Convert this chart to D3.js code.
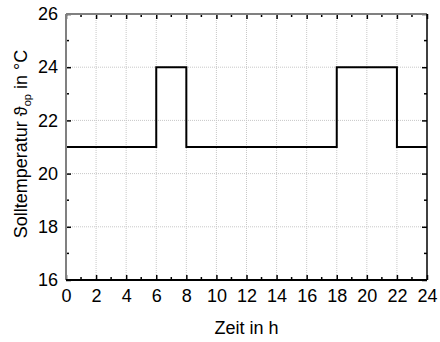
<!DOCTYPE html>
<html>
<head>
<meta charset="utf-8">
<script src="https://cdn.jsdelivr.net/npm/d3@7"></script>
<style>
body { margin: 0; background: #fff; }
text { font-family: "Liberation Sans", Arial, sans-serif; }
</style>
</head>
<body>
<svg id="chart"></svg>
<script>
// Sollwert-Zeitplan (Stufenfunktion)
var hours = [0, 6, 8, 18, 22, 24];
var temps = [21, 24, 21, 24, 21, 21];
var xTicks = [0, 2, 4, 6, 8, 10, 12, 14, 16, 18, 20, 22, 24];
var yTicks = [16, 18, 20, 22, 24, 26];

var margin = {top: 14, right: 13, bottom: 62, left: 66},
    width = 440 - margin.left - margin.right,
    height = 342 - margin.top - margin.bottom;

var svg = d3.select("#chart")
    .attr("width", 440)
    .attr("height", 342)
    .append("g")
    .attr("transform", "translate(" + margin.left + "," + margin.top + ")");

var x = d3.scaleLinear().domain([0, 24]).range([0, width]);
var y = d3.scaleLinear().domain([16, 26]).range([height, 0]);

// grid
svg.append("g").selectAll("line").data(xTicks.slice(1, -1)).enter().append("line")
    .attr("x1", function(d) { return x(d); }).attr("x2", function(d) { return x(d); })
    .attr("y1", 0).attr("y2", height)
    .attr("stroke", "#c8c8c8").attr("stroke-dasharray", "1,1");
svg.append("g").selectAll("line").data(yTicks.slice(1, -1)).enter().append("line")
    .attr("y1", function(d) { return y(d); }).attr("y2", function(d) { return y(d); })
    .attr("x1", 0).attr("x2", width)
    .attr("stroke", "#c8c8c8").attr("stroke-dasharray", "1,1");

// data line
var pts = [];
hours.forEach(function(h, i) {
    if (i > 0) pts.push([h, temps[i - 1]]);
    pts.push([h, temps[i]]);
});
var line = d3.line().x(function(d) { return x(d[0]); }).y(function(d) { return y(d[1]); });
svg.append("path").datum(pts)
    .attr("d", line)
    .attr("fill", "none").attr("stroke", "#000").attr("stroke-width", 2);

// minor ticks
var xMinor = d3.range(1, 24, 2), yMinor = d3.range(17, 26, 2);

function axisStyle(g, color) {
    g.select(".domain").remove();
    g.selectAll(".tick line").attr("stroke", color).attr("stroke-width", 1.5);
    g.selectAll(".tick text").attr("font-size", 18).attr("fill", "#000")
        .attr("font-family", "Liberation Sans, Arial, sans-serif");
}

// bottom
var gb = svg.append("g").attr("transform", "translate(0," + height + ")")
    .call(d3.axisBottom(x).tickValues(xTicks).tickSizeInner(-5).tickSizeOuter(0).tickPadding(9));
axisStyle(gb, "#000");
gb.append("g").selectAll("line").data(xMinor).enter().append("line")
    .attr("x1", function(d) { return x(d); }).attr("x2", function(d) { return x(d); })
    .attr("y1", 0).attr("y2", -3).attr("stroke", "#000").attr("stroke-width", 1.5);

// top
var gt = svg.append("g")
    .call(d3.axisTop(x).tickValues(xTicks).tickSizeInner(-5).tickSizeOuter(0).tickFormat(""));
axisStyle(gt, "#000");
gt.append("g").selectAll("line").data(xMinor).enter().append("line")
    .attr("x1", function(d) { return x(d); }).attr("x2", function(d) { return x(d); })
    .attr("y1", 0).attr("y2", 3).attr("stroke", "#000").attr("stroke-width", 1.5);

// left
var gl = svg.append("g")
    .call(d3.axisLeft(y).tickValues(yTicks).tickSizeInner(-5).tickSizeOuter(0).tickPadding(8));
axisStyle(gl, "#000");
gl.append("g").selectAll("line").data(yMinor).enter().append("line")
    .attr("y1", function(d) { return y(d); }).attr("y2", function(d) { return y(d); })
    .attr("x1", 0).attr("x2", 3).attr("stroke", "#000").attr("stroke-width", 1.5);

// right
var gr = svg.append("g").attr("transform", "translate(" + width + ",0)")
    .call(d3.axisRight(y).tickValues(yTicks).tickSizeInner(-5).tickSizeOuter(0).tickFormat(""));
axisStyle(gr, "#000");
gr.append("g").selectAll("line").data(yMinor).enter().append("line")
    .attr("y1", function(d) { return y(d); }).attr("y2", function(d) { return y(d); })
    .attr("x1", 0).attr("x2", -3).attr("stroke", "#000").attr("stroke-width", 1.5);

// frame
svg.append("line").attr("x1", 0).attr("x2", width).attr("y1", 0).attr("y2", 0)
    .attr("stroke", "#808080").attr("stroke-width", 2);
svg.append("line").attr("x1", 0).attr("x2", 0).attr("y1", 0).attr("y2", height)
    .attr("stroke", "#808080").attr("stroke-width", 2);
svg.append("line").attr("x1", 0).attr("x2", width).attr("y1", height).attr("y2", height)
    .attr("stroke", "#000").attr("stroke-width", 2);
svg.append("line").attr("x1", width).attr("x2", width).attr("y1", 0).attr("y2", height)
    .attr("stroke", "#000").attr("stroke-width", 1.5);

// axis titles
svg.append("text")
    .attr("x", width / 2).attr("y", height + 54)
    .attr("text-anchor", "middle").attr("font-size", 18)
    .text("Zeit in h");

var yl = svg.append("text")
    .attr("transform", "translate(" + (-39) + "," + (height / 2 - 3) + ") rotate(-90)")
    .attr("text-anchor", "middle").attr("font-size", 18);
yl.append("tspan").text("Solltemperatur \u03D1");
yl.append("tspan").attr("font-size", 11).attr("dy", 4).text("op");
yl.append("tspan").attr("dy", -4).text(" in \u00B0C");
</script>
</body>
</html>
